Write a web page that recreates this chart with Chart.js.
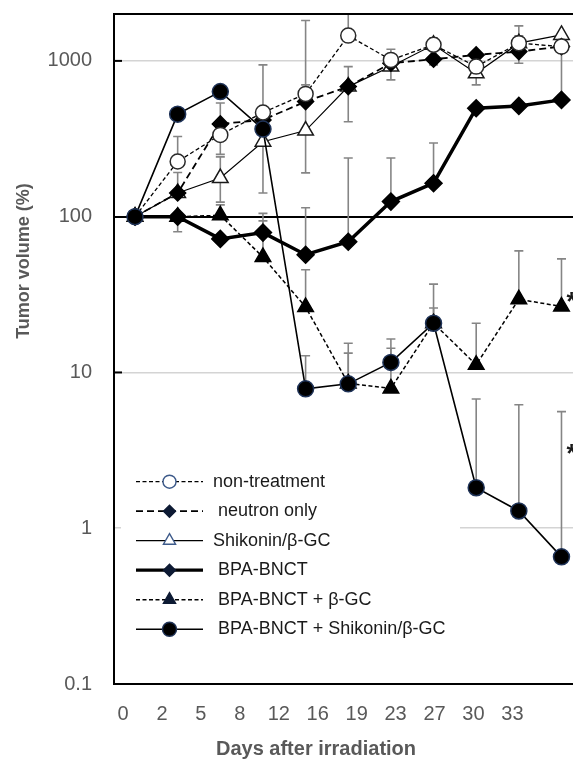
<!DOCTYPE html>
<html><head><meta charset="utf-8">
<script src="https://cdn.jsdelivr.net/npm/chart.js@4.4.1/dist/chart.umd.min.js"></script>
<style>
html,body{margin:0;padding:0;overflow:hidden;background:#fff;width:573px;height:760px}
#wrap{position:relative;width:573px;height:760px;overflow:hidden}
canvas{display:block}
</style></head>
<body><div id="wrap"><canvas id="c" width="600" height="760"></canvas></div>
<script>
// ---------- data ----------
const days = ['0','2','5','8','12','16','19','23','27','30','33'];
const yTickValues = [0.1, 1, 10, 100, 1000];
const yTickLabels = ['0.1', '1', '10', '100', '1000'];
const seriesNames = ['non-treatment', ' neutron only', 'Shikonin/\u03b2-GC', ' BPA-BNCT', ' BPA-BNCT + \u03b2-GC', ' BPA-BNCT + Shikonin/\u03b2-GC'];

const nonTreatment = [100, 226, 335, 466, 614, 1453, 1015, 1268, 919, 1300, 1235];
const neutronOnly  = [100, 142, 394, 418, 548, 684, 966, 1025, 1093, 1147, 1235];
const shikoninGC   = [100, 142, 177, 303, 357, 684, 920, 1268, 833, 1300, 1469];
const bpaBnct      = [100, 100, 72, 79, 57, 69, 125, 164, 497, 514, 562];
const bnctGC       = [100, 100, 102, 55, 26.3, 8.5, 7.9, 20.7, 11.2, 29.5, 26.5];
const bnctShikGC   = [100, 455, 635, 365, 7.85, 8.45, 11.6, 20.7, 1.82, 1.29, 0.655];

// error bar ends (null = not drawn)
const ntHi = [null, 327, null, 943, 1815, 2600, 1189, 1400, null, 1677, null];
const ntLo = [null, null, null, 142, 191, null, 755, 943, 702, 966, 600];
const noHi = [null, 192, 537, null, 702, 919, null, null, null, 1447, null];
const noLo = [null, null, 251, null, null, 407, null, null, null, null, null];
const shHi = [null, null, 242, null, null, null, null, null, null, null, null];
const shLo = [null, null, 124, null, null, null, null, null, null, null, null];
const bnHi = [null, null, null, 105, 114, 238, 238, 297, null, null, null];
const bnLo = [null, 80, null, null, null, null, null, null, null, null, null];
const bgHi = [null, null, 119, 94, 45.6, 13.3, 14.3, 25.9, 20.7, 60.3, 53.6];
const bsHi = [null, null, null, null, 12.8, 15.4, 16.4, 36.9, 6.76, 6.2, 5.6];

const sigMarks = [{day: 10, value: 31.5}, {day: 10, value: 3.3}];

// ---------- styles ----------
const FONT = "'Liberation Sans', Arial, Helvetica, sans-serif";
Chart.defaults.font.family = FONT;

const styles = [
  {shape:'circle',   r:7.5, fill:'#ffffff', edge:'#2a2a2a', lw:1.3, dash:[4,2.5], lr:6.5, lfill:'#fff', ledge:'#3d5a8a'},
  {shape:'rectRot',  r:8,   fill:'#000000', edge:'#000000', lw:1.8, dash:[7,4],   lr:6,   lfill:'#0d1a33', ledge:'#0d1a33'},
  {shape:'triangle', r:9,   fill:'#ffffff', edge:'#1a1a1a', lw:1.2, dash:[],      lr:7,   lfill:'#fff', ledge:'#3d5a8a'},
  {shape:'rectRot',  r:8.5, fill:'#000000', edge:'#000000', lw:3.5, dash:[],      lr:6,   lfill:'#0d1a33', ledge:'#0d1a33'},
  {shape:'triangle', r:9,   fill:'#000000', edge:'#000000', lw:1.5, dash:[4,2.5], lr:7,   lfill:'#0d1a33', ledge:'#0d1a33'},
  {shape:'circle',   r:8,   fill:'#000000', edge:'#1f3358', lw:1.6, dash:[],      lr:7,   lfill:'#000', ledge:'#1f3358'}
];
const allSeries = [nonTreatment, neutronOnly, shikoninGC, bpaBnct, bnctGC, bnctShikGC];
const drawOrder = [1, 2, 3, 4, 5, 0];
const errorSets = [
  [nonTreatment, ntHi, ntLo], [neutronOnly, noHi, noLo], [shikoninGC, shHi, shLo],
  [bpaBnct, bnHi, bnLo], [bnctGC, bgHi, null], [bnctShikGC, bsHi, null]
];

const datasets = allSeries.map((vals, s) => ({
  label: seriesNames[s],
  data: vals.map((v, i) => ({x: i, y: v})),
  borderColor: '#000',
  borderWidth: styles[s].lw,
  borderDash: styles[s].dash,
  pointStyle: styles[s].shape,
  pointRadius: styles[s].r,
  pointHoverRadius: styles[s].r,
  pointBackgroundColor: styles[s].fill,
  pointBorderColor: styles[s].edge,
  pointBorderWidth: 1.5,
  tension: 0,
  fill: false,
  order: drawOrder[s]
}));

function drawMarker(ctx, shape, x, y, r, fill, edge) {
  ctx.save();
  ctx.setLineDash([]);
  ctx.beginPath();
  if (shape === 'circle') {
    ctx.arc(x, y, r, 0, Math.PI * 2);
  } else if (shape === 'rectRot') {
    ctx.moveTo(x, y - r); ctx.lineTo(x + r, y); ctx.lineTo(x, y + r); ctx.lineTo(x - r, y); ctx.closePath();
  } else if (shape === 'triangle') {
    const a = -Math.PI / 2;
    for (let k = 0; k < 3; k++) {
      const t = a + k * 2 * Math.PI / 3;
      const px = x + Math.cos(t) * r, py = y + Math.sin(t) * r;
      if (k === 0) ctx.moveTo(px, py); else ctx.lineTo(px, py);
    }
    ctx.closePath();
  }
  ctx.fillStyle = fill; ctx.fill();
  ctx.lineWidth = 1.4; ctx.strokeStyle = edge; ctx.stroke();
  ctx.restore();
}

function noPad(s) { s.paddingTop = 0; s.paddingBottom = 0; s.paddingLeft = 0; s.paddingRight = 0; }

const errorBarPlugin = {
  id: 'errorBars',
  beforeDatasetsDraw(chart) {
    const {ctx, chartArea: ca, scales} = chart;
    const xs = scales.x, ys = scales.y;
    ctx.save();
    ctx.beginPath(); ctx.rect(ca.left, ca.top, ca.right - ca.left, ca.bottom - ca.top); ctx.clip();
    ctx.strokeStyle = '#858585'; ctx.lineWidth = 1.6; ctx.setLineDash([]);
    const cap = 4.5;
    errorSets.forEach(([vals, hi, lo]) => {
      vals.forEach((v, i) => {
        const px = xs.getPixelForValue(i), py = ys.getPixelForValue(v);
        [hi, lo].forEach(arr => {
          if (!arr || arr[i] == null) return;
          const ey = ys.getPixelForValue(arr[i]);
          ctx.beginPath();
          ctx.moveTo(px, py); ctx.lineTo(px, ey);
          ctx.moveTo(px - cap, ey); ctx.lineTo(px + cap, ey);
          ctx.stroke();
        });
      });
    });
    ctx.restore();
  },
  afterDatasetsDraw(chart) {
    const {ctx, chartArea: ca, scales} = chart;
    const xs = scales.x, ys = scales.y;
    ctx.save();
    ctx.strokeStyle = '#000'; ctx.lineWidth = 2; ctx.setLineDash([]);
    ctx.beginPath(); ctx.moveTo(ca.left - 1, ca.top); ctx.lineTo(ca.right, ca.top); ctx.stroke();
    [1000, 10].forEach(v => {
      const y = ys.getPixelForValue(v);
      ctx.beginPath(); ctx.moveTo(ca.left, y); ctx.lineTo(ca.left + 8, y); ctx.stroke();
    });
    ctx.fillStyle = '#1a1a1a';
    ctx.font = 'bold 26px ' + FONT;
    ctx.textAlign = 'left'; ctx.textBaseline = 'alphabetic';
    sigMarks.forEach(m => {
      ctx.fillText('*', xs.getPixelForValue(m.day) + 5, ys.getPixelForValue(m.value) + 15);
    });
    ctx.restore();
  },
  afterDraw(chart) {
    const {ctx} = chart;
    ctx.save();
    ctx.fillStyle = '#fff';
    ctx.fillRect(121, 462, 339, 186);
    const rowY0 = 481.7, rowStep = 29.5;
    datasets.forEach((d, s) => {
      const y = rowY0 + s * rowStep;
      const st = styles[s];
      ctx.strokeStyle = '#000';
      ctx.lineWidth = Math.min(st.lw, 3.2);
      ctx.setLineDash(st.dash);
      ctx.beginPath(); ctx.moveTo(136, y); ctx.lineTo(203, y); ctx.stroke();
      drawMarker(ctx, st.shape, 169.5, y, st.lr, st.lfill, st.ledge);
      ctx.setLineDash([]);
      ctx.fillStyle = '#1a1a1a';
      ctx.font = '18px ' + FONT;
      ctx.textAlign = 'left'; ctx.textBaseline = 'middle';
      ctx.fillText(d.label, 213, y);
    });
    // axis titles
    ctx.fillStyle = '#595959';
    ctx.font = 'bold 20px ' + FONT;
    ctx.textAlign = 'center'; ctx.textBaseline = 'middle';
    ctx.fillText('Days after irradiation', 316, 749);
    ctx.save();
    ctx.translate(24, 261);
    ctx.rotate(-Math.PI / 2);
    ctx.font = 'bold 18px ' + FONT;
    ctx.fillText('Tumor volume (%)', 0, 0);
    ctx.restore();
    ctx.restore();
  }
};

new Chart(document.getElementById('c'), {
  type: 'line',
  data: {datasets},
  options: {
    responsive: false,
    animation: false,
    layout: {padding: {top: 14, left: 0, right: 0, bottom: 0}},
    plugins: {legend: {display: false}, tooltip: {enabled: false}},
    scales: {
      x: {
        type: 'linear', display: false, min: -0.493, max: 10.657
      },
      xl: {
        type: 'linear', position: 'bottom', min: -0.2314, max: 11.98,
        afterBuildTicks: (s) => { s.ticks = days.map((d, i) => ({value: i})); },
        afterFit: (s) => { s.height = 76; noPad(s); },
        grid: {display: false, drawTicks: false},
        border: {display: true, color: '#000', width: 2},
        ticks: {
          autoSkip: false, maxRotation: 0, padding: 18,
          color: '#595959', font: {size: 20},
          callback: (v) => days[v] !== undefined ? days[v] : ''
        }
      },
      y: {
        type: 'logarithmic', min: 0.1, max: 2000,
        afterBuildTicks: (s) => { s.ticks = yTickValues.map(v => ({value: v})); },
        afterFit: (s) => { s.width = 114; noPad(s); },
        grid: {
          drawTicks: false,
          color: (c) => c.tick && c.tick.value === 100 ? '#000' : (c.tick && c.tick.value === 0.1 ? 'rgba(0,0,0,0)' : '#d4d4d4'),
          lineWidth: (c) => c.tick && c.tick.value === 100 ? 2 : 1.6
        },
        border: {display: true, color: '#000', width: 2},
        ticks: {
          padding: 22, color: '#595959', font: {size: 20},
          callback: (v) => { const k = yTickValues.indexOf(v); return k >= 0 ? yTickLabels[k] : ''; }
        },
        title: {display: false}
      }
    }
  },
  plugins: [errorBarPlugin]
});
</script>
</body></html>
